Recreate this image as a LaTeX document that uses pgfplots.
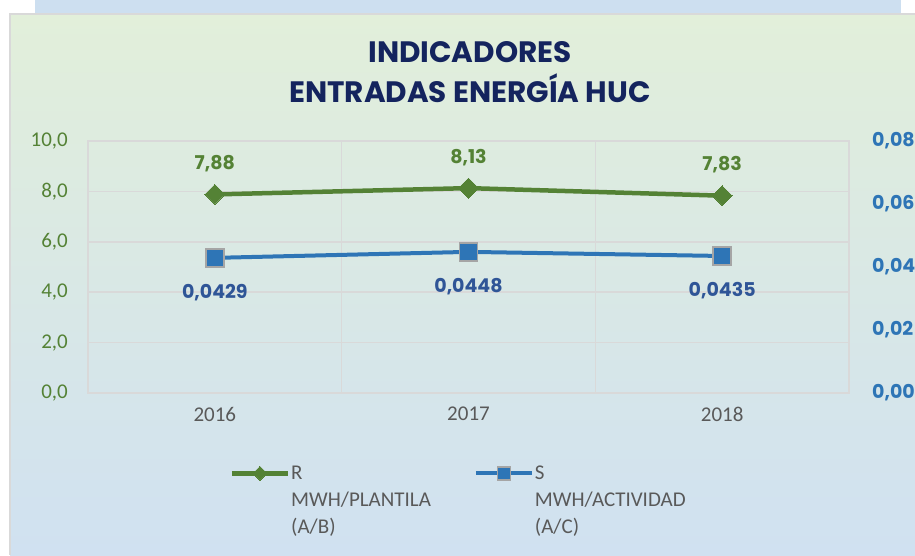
\documentclass[border=0pt]{standalone}
\usepackage{pgfplots}
\pgfplotsset{compat=1.18}
\usepackage{fontspec}
\setmainfont{Carlito}
\newfontfamily\geo{Poppins}
\definecolor{bgtop}{RGB}{226,239,218}
\definecolor{bgbot}{RGB}{208,225,241}
\definecolor{band}{RGB}{205,223,240}
\definecolor{gridc}{RGB}{217,217,217}
\definecolor{gline}{HTML}{548235}
\definecolor{bline}{HTML}{2E75B6}
\definecolor{blab}{HTML}{2F5597}
\definecolor{navy}{HTML}{14245E}
\definecolor{txtgray}{HTML}{595959}
\definecolor{mborder}{HTML}{A5A5A5}
\begin{document}
\begin{tikzpicture}
\useasboundingbox (0pt,0pt) rectangle (915pt,555pt);
\fill[white] (0pt,0pt) rectangle (915pt,555pt);
\fill[band] (35pt,542pt) rectangle (901pt,555pt);
\shade[top color=bgtop, bottom color=bgbot] (10pt,0pt) rectangle (915pt,541pt);
\draw[gridc, line width=2pt] (10pt,0pt) -- (10pt,541pt) -- (915pt,541pt);
\node[font=\geo\bfseries\fontsize{29.5}{40}\selectfont, text=navy, align=center] at (470pt,483pt) {INDICADORES\\ENTRADAS ENERGÍA HUC};
\begin{axis}[
  at={(88pt,162pt)}, anchor=south west, scale only axis,
  width=761pt, height=252pt,
  xmin=-0.5, xmax=2.5, ymin=0, ymax=10,
  xtick={0,1,2}, xticklabels={2016,2017,2018},
  minor xtick={0.5,1.5},
  xminorgrids=true, ymajorgrids=true,
  ytick={0,2,4,6,8,10},
  yticklabels={{0,0},{2,0},{4,0},{6,0},{8,0},{10,0}},
  major tick length=0, minor tick length=0,
  axis line style={gridc, line width=1.5pt},
  grid style={gridc, line width=1.5pt},
  minor grid style={gridc, line width=1.5pt},
  yticklabel style={text=gline, font=\fontsize{21}{21}\selectfont, inner sep=0pt, anchor=east, xshift=-20pt},
  xticklabel style={text=txtgray, font=\fontsize{21}{21}\selectfont, inner sep=0pt, anchor=north, yshift=-14pt},
  clip=false,
]
\addplot[gline, line width=4.5pt, mark=square*, mark size=7pt,
  mark options={solid, rotate=45, fill=gline, draw=gline, line width=0pt},
  nodes near coords, point meta=explicit symbolic,
  nodes near coords style={font=\geo\bfseries\fontsize{19}{19}\selectfont, text=gline, anchor=south, yshift=19pt}]
  coordinates {(0,7.88)[7,88] (1,8.13)[8,13] (2,7.83)[7,83]};
\end{axis}
\begin{axis}[
  at={(88pt,162pt)}, anchor=south west, scale only axis,
  width=761pt, height=252pt,
  xmin=-0.5, xmax=2.5, ymin=0, ymax=0.08,
  axis y line*=right, hide x axis,
  y axis line style={draw=none},
  scaled y ticks=false,
  ytick={0,0.02,0.04,0.06,0.08},
  yticklabels={{0,00},{0,02},{0,04},{0,06},{0,08}},
  major tick length=0,
  yticklabel style={text=bline, font=\geo\bfseries\fontsize{19}{19}\selectfont, inner sep=0pt, anchor=west, xshift=23pt},
  clip=false,
  legend style={at={(axis description cs:0.182,-0.255)}, anchor=north west, draw=none, fill=none,
    legend columns=2, font=\fontsize{21}{27}\selectfont, text=txtgray,
    /tikz/every even column/.append style={column sep=42pt},
    nodes={anchor=base west, inner sep=1pt}},
  legend image code/.code={\draw[yshift=6pt, mark repeat=2,mark phase=2,#1] plot coordinates {(0pt,0pt) (28pt,0pt) (56pt,0pt)};},
]
\addlegendimage{gline, line width=4.5pt, mark=square*, mark size=5pt, mark options={solid, rotate=45, fill=gline, draw=gline, line width=0pt}}
\addlegendentry{\begin{tabular}[t]{@{}l@{}}R\\MWH/PLANTILA\\(A/B)\end{tabular}}
\addlegendimage{bline, line width=4pt, mark=square*, mark size=6.5pt, mark options={solid, fill=bline, draw=mborder, line width=1.5pt}}
\addlegendentry{\begin{tabular}[t]{@{}l@{}}S\\MWH/ACTIVIDAD\\(A/C)\end{tabular}}
\addplot[forget plot, bline, line width=4pt, mark=square*, mark size=9pt,
  mark options={solid, fill=bline, draw=mborder, line width=1.5pt},
  nodes near coords, point meta=explicit symbolic,
  nodes near coords style={font=\geo\bfseries\fontsize{19}{19}\selectfont, text=blab, anchor=north, yshift=-22pt}]
  coordinates {(0,0.0429)[0,0429] (1,0.0448)[0,0448] (2,0.0435)[0,0435]};
\end{axis}
\end{tikzpicture}
\end{document}
